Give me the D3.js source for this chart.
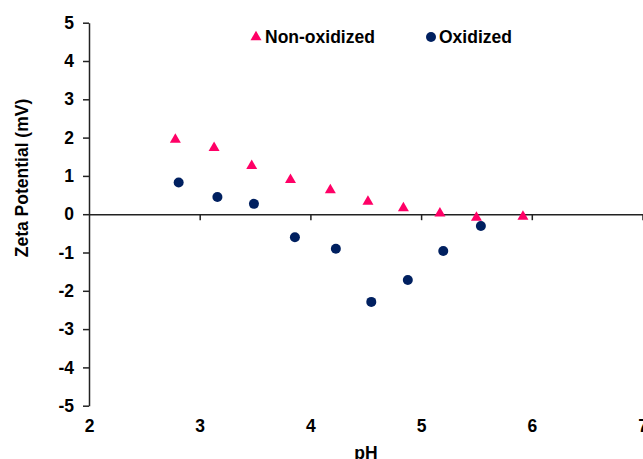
<!DOCTYPE html>
<html>
<head>
<meta charset="utf-8">
<script src="https://cdnjs.cloudflare.com/ajax/libs/d3/7.8.5/d3.min.js"></script>
<style>
  body { margin: 0; background: #fff; }
  svg { display: block; font-family: Arial, "Liberation Sans", sans-serif; }
  .axis text { font-size: 17.5px; font-weight: bold; fill: #000; }
  .axis path, .axis line { stroke: #222; stroke-width: 1.5px; }
  .label { font-size: 17.5px; font-weight: bold; fill: #000; }
</style>
</head>
<body>
<svg class="chart" width="643" height="459"></svg>
<script>
// values
var ph_non = [2.78, 3.13, 3.47, 3.82, 4.18, 4.52, 4.84, 5.17, 5.50, 5.92];
var zeta_non = [1.95, 1.73, 1.26, 0.90, 0.63, 0.33, 0.16, 0.02, -0.09, -0.06];
var ph_ox = [2.81, 3.16, 3.49, 3.86, 4.23, 4.55, 4.88, 5.20, 5.54];
var zeta_ox = [0.83, 0.45, 0.27, -0.60, -0.90, -2.29, -1.72, -0.96, -0.31];
var x_ticks = [2, 3, 4, 5, 6, 7];
var y_ticks = [-5, -4, -3, -2, -1, 0, 1, 2, 3, 4, 5];

var pink = '#ff0066', navy = '#002060';

var svg = d3.select('.chart');

var xScale = d3.scaleLinear()
    .domain([2, 7])
    .range([89, 642.5]);

var yScale = d3.scaleLinear()
    .domain([-5, 5])
    .range([405.7, 22.7]);

// plain hyphen for negatives, like the original
var plain = function(d) { return String(d); };

// y axis on the left
svg.append('g')
    .attr('class', 'y axis')
    .attr('transform', 'translate(89,0)')
    .call(d3.axisLeft(yScale).tickValues(y_ticks).tickSize(6).tickPadding(9).tickSizeOuter(0).tickFormat(plain));

// x axis crosses at zero, labels sit at the bottom
svg.append('g')
    .attr('class', 'x axis')
    .attr('transform', 'translate(0,' + yScale(0) + ')')
    .call(d3.axisBottom(xScale).tickValues(x_ticks.slice(1)).tickSize(6).tickSizeOuter(0).tickFormat(''));

var xlabels = svg.append('g')
    .attr('class', 'x axis')
    .attr('transform', 'translate(0,' + yScale(-5) + ')')
    .call(d3.axisBottom(xScale).tickValues(x_ticks).tickSize(0).tickPadding(14).tickFormat(plain));
xlabels.select('.domain').remove();

// axis titles
svg.append('text')
    .attr('class', 'label')
    .attr('text-anchor', 'middle')
    .attr('transform', 'translate(28,178) rotate(-90)')
    .text('Zeta Potential (mV)');

svg.append('text')
    .attr('class', 'label')
    .attr('text-anchor', 'middle')
    .attr('x', 366)
    .attr('y', 459)
    .text('pH');

var tri = function(cx, cy, s) {
  var h = s * Math.sqrt(3) / 2;
  return 'M' + cx + ',' + (cy - h * 2 / 3) +
         'L' + (cx + s / 2) + ',' + (cy + h / 3) +
         'L' + (cx - s / 2) + ',' + (cy + h / 3) + 'Z';
};

// non-oxidized triangles
svg.selectAll('.tri')
    .data(ph_non)
  .enter().append('path')
    .attr('class', 'tri')
    .attr('d', function(d, i) { return tri(xScale(d), yScale(zeta_non[i]), 11); })
    .style('fill', pink);

// oxidized circles
svg.selectAll('.dot')
    .data(ph_ox)
  .enter().append('circle')
    .attr('class', 'dot')
    .attr('cx', function(d) { return xScale(d); })
    .attr('cy', function(d, i) { return yScale(zeta_ox[i]); })
    .attr('r', 5)
    .style('fill', navy);

// legend
svg.append('path')
    .attr('d', tri(256, 37, 11))
    .style('fill', pink);
svg.append('text')
    .attr('class', 'label')
    .attr('x', 265)
    .attr('y', 43)
    .text('Non-oxidized');

svg.append('circle')
    .attr('cx', 431)
    .attr('cy', 37)
    .attr('r', 5)
    .style('fill', navy);
svg.append('text')
    .attr('class', 'label')
    .attr('x', 439)
    .attr('y', 43)
    .text('Oxidized');
</script>
</body>
</html>
